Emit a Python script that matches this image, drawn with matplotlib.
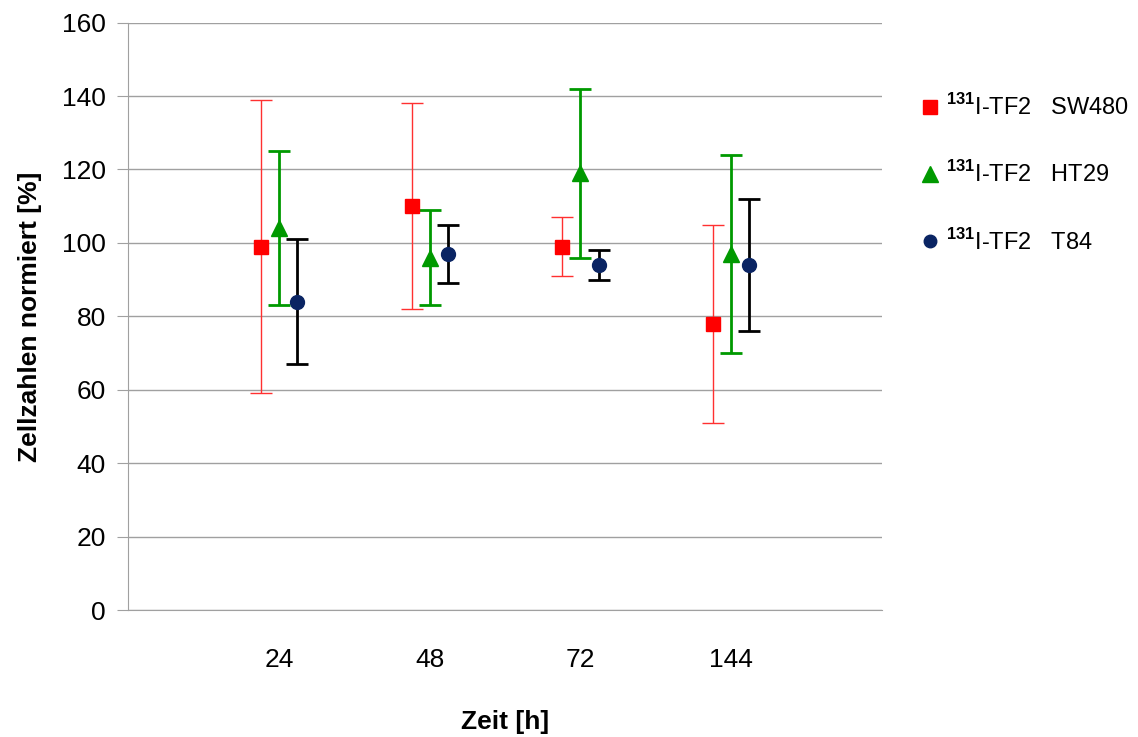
import numpy as np
import matplotlib
matplotlib.use("Agg")
import matplotlib.pyplot as plt
from matplotlib.lines import Line2D

plt.rcParams["font.family"] = ["Liberation Sans", "DejaVu Sans"]
plt.rcParams["mathtext.fontset"] = "custom"
plt.rcParams["mathtext.rm"] = "Liberation Sans"
plt.rcParams["mathtext.bf"] = "Liberation Sans:bold"

# data
times = ["24", "48", "72", "144"]
sw480 = [99, 110, 99, 78]
sw480_lo = [59, 82, 91, 51]
sw480_hi = [139, 138, 107, 105]
ht29 = [104, 96, 119, 97]
ht29_lo = [83, 83, 96, 70]
ht29_hi = [125, 109, 142, 124]
t84 = [84, 97, 94, 94]
t84_lo = [67, 89, 90, 76]
t84_hi = [101, 105, 98, 112]

labels = [r"$^{\mathbf{131}}$I-TF2   SW480",
          r"$^{\mathbf{131}}$I-TF2   HT29",
          r"$^{\mathbf{131}}$I-TF2   T84"]

fig = plt.figure(figsize=(11.38, 7.37), dpi=100)
ax = fig.add_axes([0.1125, 0.1723, 0.6626, 0.797])

x = np.arange(1, len(times) + 1)
off = 0.12

def yerr(v, lo, hi):
    v, lo, hi = map(np.array, (v, lo, hi))
    return [v - lo, hi - v]

ax.errorbar(x - off, sw480, yerr=yerr(sw480, sw480_lo, sw480_hi), fmt="s",
            color="#FF0000", ecolor="#FF3030", elinewidth=1.0, capsize=8,
            capthick=1.0, markersize=10, zorder=3)
ax.errorbar(x, ht29, yerr=yerr(ht29, ht29_lo, ht29_hi), fmt="^",
            color="#009900", ecolor="#009900", elinewidth=2, capsize=8,
            capthick=2, markersize=12, zorder=3)
ax.errorbar(x + off, t84, yerr=yerr(t84, t84_lo, t84_hi), fmt="o",
            color="#0A2463", ecolor="black", elinewidth=2, capsize=8,
            capthick=2, markersize=10, zorder=3)

ax.set_xlim(0, 5)
ax.set_ylim(0, 160)
ax.set_yticks(np.arange(0, 161, 20))
ax.set_xticks(x)
ax.set_xticklabels(times)
ax.tick_params(axis="y", length=8, color="#A0A0A0", labelsize=19, pad=8)
ax.tick_params(axis="x", length=0, labelsize=19, pad=27)
ax.grid(axis="y", color="#A0A0A0", linewidth=1)
ax.set_axisbelow(True)
for s in ["top", "right"]:
    ax.spines[s].set_visible(False)
for s in ["left", "bottom"]:
    ax.spines[s].set_color("#A0A0A0")

ax.set_ylabel("Zellzahlen normiert [%]", fontsize=19, fontweight="bold", labelpad=14)
ax.set_xlabel("Zeit [h]", fontsize=19, fontweight="bold", labelpad=28)

handles = [
    Line2D([], [], marker="s", color="#FF0000", linestyle="none", markersize=10),
    Line2D([], [], marker="^", color="#009900", linestyle="none", markersize=12),
    Line2D([], [], marker="o", color="#0A2463", linestyle="none", markersize=9),
]
fig.legend(handles, labels, loc="upper left", bbox_to_anchor=(0.79, 0.901),
           frameon=False, fontsize=17, labelspacing=1.75, handlelength=0.8,
           handletextpad=0.3)

fig.savefig("out.png", dpi=100)
